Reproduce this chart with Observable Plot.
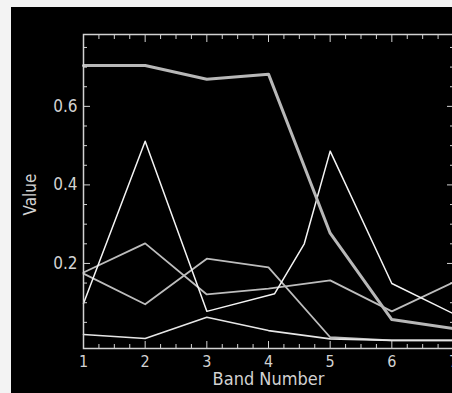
<!DOCTYPE html>
<html><head><meta charset="utf-8">
<script src="https://cdn.jsdelivr.net/npm/d3@7"></script>
<script src="https://cdn.jsdelivr.net/npm/@observablehq/plot@0.6"></script>
<style>
html,body{margin:0;padding:0;background:#f3f3f3;width:452px;height:393px;overflow:hidden}
#chart{position:absolute;left:11px;top:7px;width:443px;height:386px;background:#000;overflow:hidden}
#chart svg{display:block}
</style></head><body><div id="chart"></div>
<script>
// Data
const bands = [1, 2, 3, 4, 5, 6, 7];
const seriesA = [0.704, 0.704, 0.669, 0.682, 0.277, 0.057, 0.034];   // thick grey
const seriesC1 = [0.177, 0.251, 0.121, 0.136, 0.157, 0.078, 0.152];  // grey
const seriesC2 = [0.174, 0.096, 0.212, 0.190, 0.012, 0.004, 0.004];  // grey
const seriesD = [0.019, 0.009, 0.063, 0.029, 0.008, 0.004, 0.004];   // white, low
const bandsB = [1, 2, 3, 4.1, 4.58, 5, 6, 7];
const seriesB = [0.098, 0.511, 0.078, 0.123, 0.250, 0.486, 0.149, 0.072]; // white, peaks

// Tick values
const xMajor = [1, 2, 3, 4, 5, 6, 7];
const xMinor = [1.25, 1.5, 1.75, 2.25, 2.5, 2.75, 3.25, 3.5, 3.75, 4.25, 4.5, 4.75, 5.25, 5.5, 5.75, 6.25, 6.5, 6.75];
const yMajor = [0.2, 0.4, 0.6];
const yMinor = [0.05, 0.1, 0.15, 0.25, 0.3, 0.35, 0.45, 0.5, 0.55, 0.65, 0.7, 0.75];
const xTitle = "Band Number";
const yTitle = "Value";

const rows = (xs, ys, id) => xs.map((x, i) => ({band: x, value: ys[i], id}));
const lineStyle = [
  {data: rows(bands, seriesC1, "C1"), stroke: "#bdbdbd", w: 1.8},
  {data: rows(bands, seriesC2, "C2"), stroke: "#bdbdbd", w: 1.8},
  {data: rows(bands, seriesD, "D"), stroke: "#e6e6e6", w: 1.6},
  {data: rows(bandsB, seriesB, "B"), stroke: "#f4f4f4", w: 1.5},
  {data: rows(bands, seriesA, "A"), stroke: "#b8b8b8", w: 3}
];

const axisColor = "#d2d2d2";
const tickMarks = [];
for (const anchor of ["bottom", "top"]) {
  tickMarks.push(Plot.axisX(xMajor, {anchor, tickSize: -7, tickFormat: () => "", label: null, stroke: axisColor}));
  tickMarks.push(Plot.axisX(xMinor, {anchor, tickSize: -4, tickFormat: () => "", label: null, stroke: axisColor}));
}
for (const anchor of ["left", "right"]) {
  tickMarks.push(Plot.axisY(yMajor, {anchor, tickSize: -7, tickFormat: () => "", label: null, stroke: axisColor}));
  tickMarks.push(Plot.axisY(yMinor, {anchor, tickSize: -4, tickFormat: () => "", label: null, stroke: axisColor}));
}

const chart = Plot.plot({
  width: 442, height: 386,
  marginLeft: 72, marginTop: 27, marginRight: 0, marginBottom: 45,
  x: {domain: [1, 7]},
  y: {domain: [-0.0166, 0.783]},
  style: {background: "#000", color: axisColor, fontFamily: "'DejaVu Sans Condensed', 'DejaVu Sans', sans-serif", fontSize: "16px"},
  marks: [
    ...lineStyle.map(s => Plot.line(s.data, {x: "band", y: "value", stroke: s.stroke, strokeWidth: s.w, curve: "linear"})),
    ...tickMarks,
    Plot.axisX(xMajor, {anchor: "bottom", tickSize: 0, tickPadding: 7, label: null, fill: axisColor, fontSize: 16}),
    Plot.axisY(yMajor, {anchor: "left", tickSize: 0, tickPadding: 6, label: null, fill: axisColor, fontSize: 17, tickFormat: d3.format(".1f")}),
    Plot.text([xTitle], {frameAnchor: "bottom", dy: 36, fill: axisColor, fontSize: 18}),
    Plot.text([yTitle], {frameAnchor: "left", dx: -53, dy: 24, rotate: -90, fill: axisColor, fontSize: 17}),
    Plot.frame({stroke: axisColor, strokeWidth: 1.5})
  ]
});
document.getElementById("chart").appendChild(chart);
</script>
</body></html>
